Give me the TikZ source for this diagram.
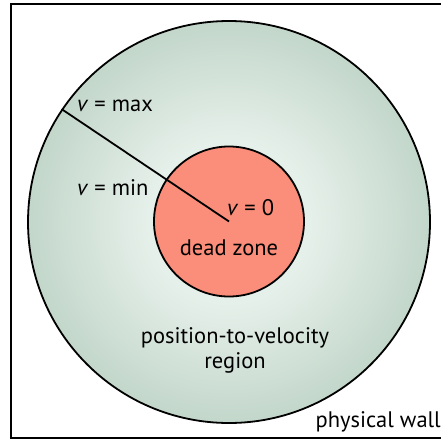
\documentclass[tikz,border=0pt]{standalone}
\usepackage{fontspec}
\setmainfont{PT Sans}
\definecolor{centerc}{RGB}{230,240,234}
\definecolor{edgec}{RGB}{136,172,150}
\definecolor{deadc}{RGB}{250,142,122}
\pgfdeclareradialshading{ringshade}{\pgfpointorigin}{color(0bp)=(centerc); color(10bp)=(centerc); color(50bp)=(edgec)}
\tikzset{
  lbl/.style={inner sep=0pt, font=\fontsize{22.5}{26}\selectfont, text=black},
  outline/.style={draw=black, line width=1.8pt}
}
\begin{document}
\begin{tikzpicture}[x=1pt,y=1pt]
\useasboundingbox (0,0) rectangle (441,440);
\draw[line width=1.8pt] (449,1.8) -- (11,1.8) -- (11,436) -- (449,436);
\node[circle, minimum size=402pt, inner sep=0pt, outline, shading=ringshade] (outer) at (229,218) {};
\node[circle, minimum size=150pt, inner sep=0pt, outline, fill=deadc] (dead) at (229,218.5) {};
\coordinate (c) at (229,218.5);
\draw[line width=1.8pt] (c) -- (outer.146.4);
\node[lbl, anchor=west] (vmax) at (77,334) {\textit{v} = max};
\node[lbl, anchor=west] (vmin) at (77,252) {\textit{v} = min};
\node[lbl, anchor=west] (v0) at (227,232) {\textit{v} = 0};
\node[lbl] (dz) at (229,192) {dead zone};
\node[lbl, align=center] (pv) at (235,90) {position-to-velocity\\[-1pt]region};
\node[lbl, anchor=east] (wall) at (441,18) {physical wall};
\end{tikzpicture}
\end{document}
